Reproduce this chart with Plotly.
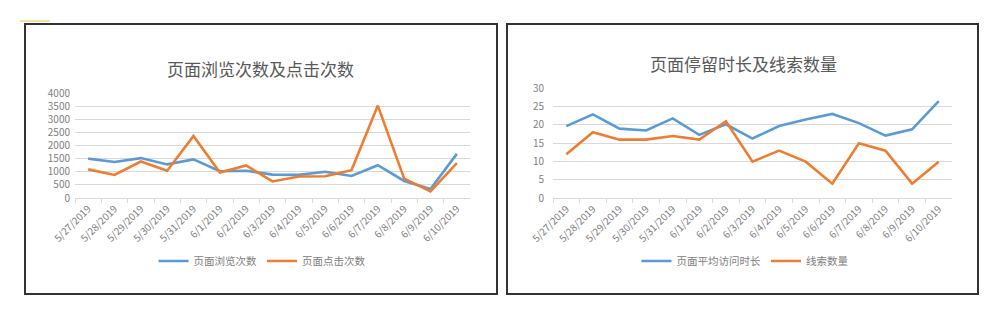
import plotly.graph_objects as go

dates = ["5/27/2019", "5/28/2019", "5/29/2019", "5/30/2019", "5/31/2019", "6/1/2019", "6/2/2019",
         "6/3/2019", "6/4/2019", "6/5/2019", "6/6/2019", "6/7/2019", "6/8/2019", "6/9/2019", "6/10/2019"]

page_views = [1500, 1370, 1520, 1280, 1470, 1020, 1040, 890, 880, 1000, 840, 1250, 650, 340, 1680]
page_clicks = [1090, 880, 1390, 1040, 2360, 970, 1240, 630, 820, 830, 1060, 3520, 740, 250, 1330]

avg_duration = [19.7, 22.9, 19.0, 18.5, 21.8, 17.3, 20.2, 16.3, 19.7, 21.5, 23.0, 20.5, 17.1, 18.8, 26.5]
leads = [12, 18, 16, 16, 17, 16, 21, 10, 13, 10, 4, 15, 13, 4, 10]

title_left = "页面浏览次数及点击次数"
title_right = "页面停留时长及线索数量"
names_left = ["页面浏览次数", "页面点击次数"]
names_right = ["页面平均访问时长", "线索数量"]

BLUE = "#5b9bd5"
ORANGE = "#ed7d31"
FONT = "Noto Sans CJK SC"
GRID = "#d9d9d9"
TXT = "#808080"

W, H = 1000, 323
def px(x): return x / W
def py(y): return 1 - y / H

fig = go.Figure()
fig.add_trace(go.Scatter(x=dates, y=page_views, name=names_left[0], mode="lines",
                         line=dict(color=BLUE, width=2.6), xaxis="x", yaxis="y", legend="legend"))
fig.add_trace(go.Scatter(x=dates, y=page_clicks, name=names_left[1], mode="lines",
                         line=dict(color=ORANGE, width=2.6), xaxis="x", yaxis="y", legend="legend"))
fig.add_trace(go.Scatter(x=dates, y=avg_duration, name=names_right[0], mode="lines",
                         line=dict(color=BLUE, width=2.6), xaxis="x2", yaxis="y2", legend="legend2"))
fig.add_trace(go.Scatter(x=dates, y=leads, name=names_right[1], mode="lines",
                         line=dict(color=ORANGE, width=2.6), xaxis="x2", yaxis="y2", legend="legend2"))

xcommon = dict(type="category", range=[-0.5, 14.5], tickangle=-45, showgrid=False, automargin=False,
               showline=True, linecolor=GRID, linewidth=1, ticks="outside", tickson="boundaries",
               ticklen=4, tickcolor=GRID, tickfont=dict(family=FONT, size=10, color=TXT), fixedrange=True)
ycommon = dict(showgrid=True, gridcolor=GRID, gridwidth=1, zeroline=False, showline=False, automargin=False,
               tickfont=dict(family=FONT, size=10, color=TXT), ticks="", fixedrange=True)

legcommon = dict(orientation="h", xanchor="center", yanchor="middle", bgcolor="rgba(0,0,0,0)",
                 font=dict(family=FONT, size=10.5, color=TXT), itemwidth=30, tracegroupgap=0)

fig.update_layout(
    width=W, height=H,
    margin=dict(l=0, r=0, t=0, b=0, pad=0, autoexpand=False),
    paper_bgcolor="white", plot_bgcolor="white",
    font=dict(family=FONT),
    xaxis=dict(domain=[px(75), px(470)], anchor="y", **xcommon),
    yaxis=dict(domain=[py(198), py(93)], anchor="x", range=[0, 4000], dtick=500,
               ticklabelstandoff=4, **ycommon),
    xaxis2=dict(domain=[px(553), px(952)], anchor="y2", **xcommon),
    yaxis2=dict(domain=[py(198.3), py(88.3)], anchor="x2", range=[0, 30], dtick=5,
                ticklabelstandoff=8, **ycommon),
    legend=dict(x=px(262), y=py(261), **legcommon),
    legend2=dict(x=px(745), y=py(261), **legcommon),
    annotations=[
        dict(text=title_left, x=px(260), y=py(68), xref="paper", yref="paper", showarrow=False,
             xanchor="center", yanchor="middle", font=dict(family=FONT, size=17, color="#595959")),
        dict(text=title_right, x=px(743), y=py(63), xref="paper", yref="paper", showarrow=False,
             xanchor="center", yanchor="middle", font=dict(family=FONT, size=17, color="#595959")),
    ],
    shapes=[
        dict(type="rect", xref="paper", yref="paper", x0=px(25), x1=px(497), y0=py(294), y1=py(24),
             line=dict(color="#333333", width=2), fillcolor="rgba(0,0,0,0)"),
        dict(type="rect", xref="paper", yref="paper", x0=px(507), x1=px(978), y0=py(294), y1=py(24),
             line=dict(color="#333333", width=2), fillcolor="rgba(0,0,0,0)"),
        dict(type="line", xref="paper", yref="paper", x0=px(20), x1=px(50), y0=py(21), y1=py(21),
             line=dict(color="#f3e2a0", width=2)),
    ],
)

fig.write_html("out.html")
